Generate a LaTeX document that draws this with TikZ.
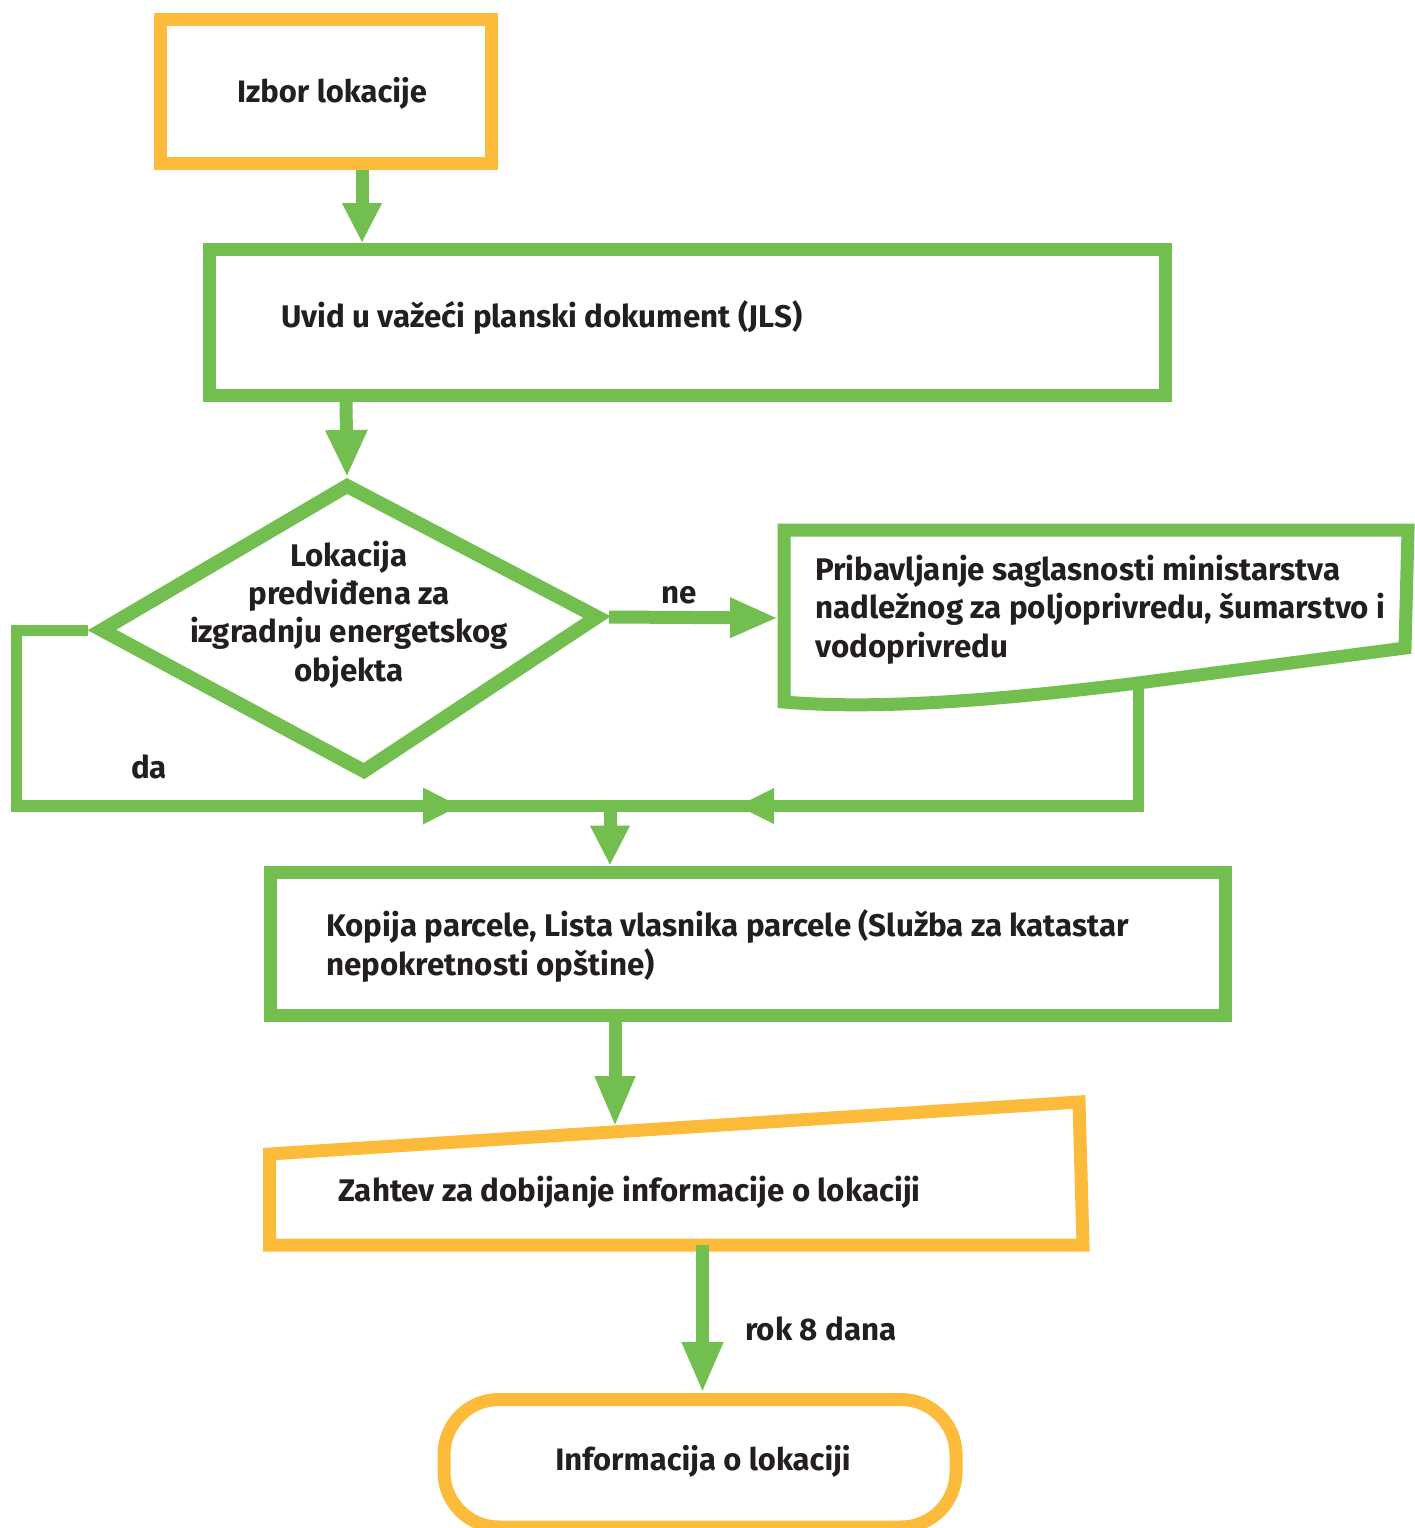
\documentclass[tikz,border=0pt]{standalone}
\usepackage{fontspec}
\setmainfont{Fira Sans}
\usetikzlibrary{arrows.meta}
\definecolor{leaf}{RGB}{114,191,80}
\definecolor{amber}{RGB}{252,187,58}
\definecolor{ink}{RGB}{35,31,32}

\begin{document}
\begin{tikzpicture}[x=1pt,y=-1pt,line join=miter,
  every node/.style={font=\fontsize{31.3}{38.2}\selectfont\bfseries,text=ink,inner sep=0pt},
  big/.style={font=\fontsize{31}{38}\selectfont\bfseries},
  gbox/.style={draw=leaf,line width=13pt,rectangle},
  obox/.style={draw=amber,line width=13pt,rectangle},
  gshape/.style={draw=leaf,line width=13pt},
  oshape/.style={draw=amber,line width=13pt},
  flow/.style 2 args={draw=leaf,line width=13pt,-{Triangle[length=#1,width=#2]}},
  link/.style={draw=leaf,line width=12pt},
  tag/.style={anchor=base west,align=left},
  ctag/.style={anchor=base,align=center}]
\useasboundingbox (0,0) rectangle (1414,1528);

% process boxes
\node[obox,minimum width=330.5pt,minimum height=144pt] (izbor) at (325.75,91.5) {};
\node[gbox,minimum width=956pt,minimum height=146pt] (uvid) at (687.5,322.5) {};
\node[gbox,minimum width=955pt,minimum height=143pt] (kopija) at (747.5,943.5) {};
\node[obox,minimum width=512pt,minimum height=127.5pt,rounded corners=55pt] (info) at (700,1463.25) {};

% decision
\coordinate (dT) at (347,486);
\coordinate (dR) at (597,617);
\coordinate (dB) at (364,771);
\coordinate (dL) at (102,630);
\draw[gshape,line width=14pt] (dT) -- (dR) -- (dB) -- (dL) -- cycle;
\coordinate (decTop) at (347,477);
\coordinate (decRight) at (609,617);
\coordinate (decLeft) at (88,630);

% document shape
\draw[gshape] (784,530) -- (1408,530) -- (1405,648) -- (1138,683)
  .. controls (1000,700) and (880,710) .. (784,702) -- cycle;
\coordinate (pribIn) at (778,618);
\coordinate (pribOut) at (1138,683);

% manual input shape
\draw[oshape] (269.5,1154) -- (1079,1102) -- (1083,1245) -- (269.5,1245) -- cycle;
\coordinate (zahIn) at (615,1127);
\coordinate (zahOut) at (702.5,1245);

% texts (multi-line nodes sit on the baseline of their last line)
\node[big,ctag] (izborText) at (332,102) {Izbor lokacije};
\node[tag] (uvidText) at (281,327) {Uvid u važeći planski dokument (JLS)};
\node[ctag] (decText) at (349,681) {Lokacija\\predviđena za\\izgradnju energetskog\\objekta};
\node[tag] (pribText) at (815,657) {Pribavljanje saglasnosti ministarstva\\nadležnog za poljoprivredu, šumarstvo i\\vodoprivredu};
\node[tag] (kopText) at (326,975) {Kopija parcele, Lista vlasnika parcele (Služba za katastar\\nepokretnosti opštine)};
\node[tag] (zahText) at (338,1201) {Zahtev za dobijanje informacije o lokaciji};
\node[big,ctag] (infoText) at (703,1470) {Informacija o lokaciji};

% routing points
\coordinate (colA) at (362,0);
\coordinate (colB) at (346,0);
\coordinate (colC) at (615,0);
\coordinate (colD) at (702.5,0);
\coordinate (merge) at (610,806);
\coordinate (daA) at (16,630);
\coordinate (daB) at (16,806);
\coordinate (daTip) at (460,806);
\coordinate (rTurn) at (1138,806);
\coordinate (rTip) at (737,806);

% connectors
\draw[flow={40pt}{37pt}] (izbor.south -| colA) -- (uvid.north -| colA);
\draw[flow={47pt}{39pt}] (uvid.south -| colB) -- (decTop);
\draw[flow={48pt}{37pt}] (decRight) -- (pribIn);
\draw[link] (daB) -- (merge);
\draw[flow={37pt}{34pt},line width=11pt] (decLeft) -- (daA) -- (daB) -- (daTip);
\draw[link] (rTurn) -- (merge);
\draw[flow={37pt}{33pt},line width=11pt] (pribOut) -- (rTurn) -- (rTip);
\draw[flow={40pt}{37pt}] (merge) -- (kopija.north -| merge);
\draw[flow={51pt}{37pt}] (kopija.south -| colC) -- (zahIn);
\draw[flow={51pt}{38pt}] (zahOut) -- (info.north -| colD);

% labels
\node[ctag] (ne) at (679,603) {ne};
\node[ctag] (da) at (149,778) {da};
\node[tag] (rok) at (745,1340) {rok 8 dana};
\end{tikzpicture}
\end{document}
